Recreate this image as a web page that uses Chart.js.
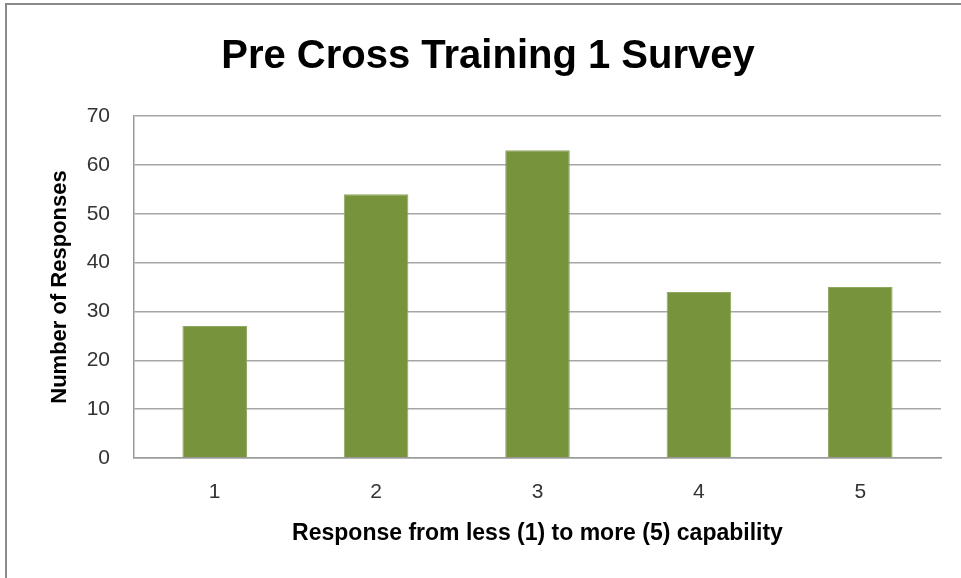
<!DOCTYPE html>
<html lang="en">
<head>
    <meta charset="UTF-8">
    <title>Pre Cross Training 1 Survey</title>
    <style>
        html, body { margin: 0; padding: 0; background: #fff; }
        #wrap { position: relative; width: 961px; height: 578px; }
        #frame {
            position: absolute; left: 5px; top: 3px; right: 0; bottom: 0;
            border-top: 2px solid #8a8a8a; border-left: 2px solid #8a8a8a;
            pointer-events: none;
        }
    </style>
</head>
<body>
<div id="wrap">
    <canvas id="chart" width="961" height="578"></canvas>
    <div id="frame"></div>
</div>
<script src="https://cdn.jsdelivr.net/npm/chart.js@4/dist/chart.umd.min.js"></script>
<script>
    'use strict';
    // данные графика
    var categories = ['1', '2', '3', '4', '5'];
    var responses = [27, 54, 63, 34, 35];
    var yTicks = [0, 10, 20, 30, 40, 50, 60, 70];

    var titleText = 'Pre Cross Training 1 Survey';
    var xTitle = 'Response from less (1) to more (5) capability';
    var yTitle = 'Number of Responses';

    Chart.defaults.font.family = '"Liberation Sans", Arial, sans-serif';

    var ctx = document.getElementById('chart');
    var chart = new Chart(ctx, {
        type: 'bar',
        data: {
            labels: categories,
            datasets: [{
                data: responses,
                backgroundColor: '#77933C',
                borderColor: '#8fa860',
                borderWidth: 1,
                barPercentage: 0.4,
                categoryPercentage: 1
            }]
        },
        options: {
            responsive: false,
            animation: false,
            // left 35 / right 20 -> title centred like the original
            layout: { padding: { left: 35, right: 20, top: 0, bottom: 0 } },
            plugins: {
                legend: { display: false },
                tooltip: { enabled: false },
                title: {
                    display: true,
                    text: titleText,
                    color: '#000',
                    font: { size: 40, weight: 'bold' },
                    padding: { top: 33, bottom: 35 }
                }
            },
            scales: {
                x: {
                    grid: { display: false, drawTicks: false },
                    border: { display: true, color: '#9a9a9a', width: 1.5 },
                    ticks: { color: '#333', font: { size: 21 }, padding: 22 },
                    title: {
                        display: true,
                        text: xTitle,
                        color: '#000',
                        font: { size: 23, weight: 'bold' },
                        padding: { top: 0, bottom: 31 }
                    },
                    afterFit: function (scale) { scale.height = 120; }
                },
                y: {
                    min: 0,
                    max: 70,
                    afterBuildTicks: function (scale) {
                        scale.ticks = yTicks.map(function (v) { return { value: v }; });
                    },
                    grid: { color: '#a6a6a6', lineWidth: 1.5, drawTicks: false },
                    border: { display: true, color: '#9a9a9a', width: 1.5 },
                    ticks: { color: '#333', font: { size: 21 }, padding: 24 },
                    title: {
                        display: true,
                        text: yTitle,
                        color: '#000',
                        font: { size: 22, weight: 'bold' },
                        padding: { top: 12, bottom: 0 }
                    },
                    afterFit: function (scale) { scale.width = 99; }
                }
            }
        }
    });
</script>
</body>
</html>
